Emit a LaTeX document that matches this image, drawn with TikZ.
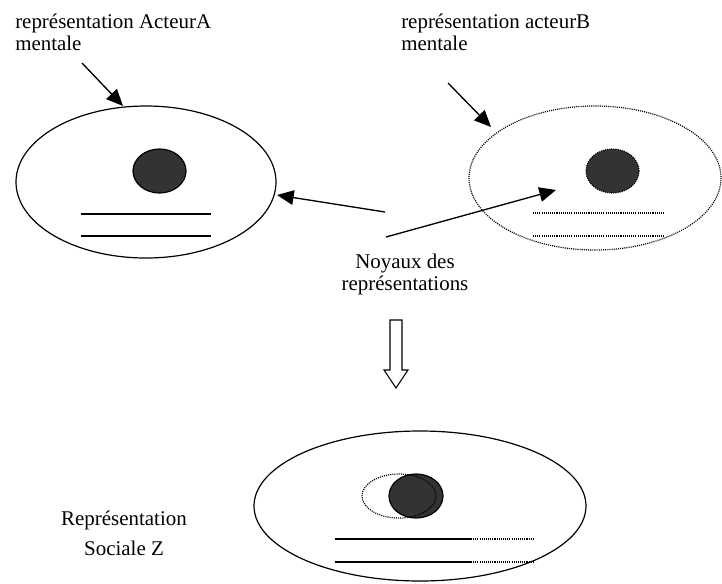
\documentclass[tikz,border=0pt]{standalone}
\usepackage{fontspec}
\setmainfont{Liberation Serif}
\usetikzlibrary{arrows.meta}
\begin{document}
\begin{tikzpicture}[x=0.75pt,y=-0.75pt,
  lbl/.style={inner sep=0pt,font=\fontsize{15.7pt}{16.5pt}\selectfont},
  ring/.style={draw=black,line width=0.9pt},
  dotring/.style={draw=black,line width=0.9pt,dash pattern=on 0.8pt off 0.8pt},
  core/.style={fill=coreGrey},
  pointer/.style={line width=1pt,-{Triangle[length=12.5pt,width=11pt]}},
  hollow/.style={draw=black,fill=white,line width=0.8pt,line join=miter}
]
\definecolor{coreGrey}{HTML}{333333}
\useasboundingbox (0,0) rectangle (722,583);

% --- labels (base anchor sits on the last line) ---
\node[lbl,anchor=base west,align=left] (labA) at (15,50) {représentation ActeurA\\mentale};
\node[lbl,anchor=base west,align=left] (labB) at (401,50) {représentation acteurB\\mentale};
\node[lbl,anchor=base,align=center] (noyaux) at (405,290) {Noyaux des\\représentations};
\node[lbl,anchor=base,align=center,font=\fontsize{15.7pt}{22.5pt}\selectfont] (socZ) at (124,555) {Représentation\\Sociale Z};

% --- representation of actor A ---
\draw[ring] (146,182) ellipse [x radius=130, y radius=76];
\draw[ring,core] (159.5,171) ellipse [x radius=26.5, y radius=22];
\draw[ring] (81,214) -- (211,214);
\draw[ring] (81,236) -- (211,236);

% --- representation of actor B (dotted) ---
\draw[dotring] (595,178) ellipse [x radius=126, y radius=72];
\draw[dotring,core] (612.5,171) ellipse [x radius=26.5, y radius=22];
\draw[dotring] (533,213) -- (664,213);
\draw[dotring] (533,236) -- (664,236);

% --- social representation Z ---
\draw[ring] (420,506) ellipse [x radius=166, y radius=75];
\draw[ring,core] (416,496) ellipse [x radius=27, y radius=22];
\draw[dotring] (399,496) ellipse [x radius=37, y radius=22];
\draw[ring] (335,539) -- (471,539);
\draw[dotring] (471,539) -- (534,539);
\draw[ring] (335,562) -- (471,562);
\draw[dotring] (471,562) -- (534,562);

% --- arrow anchors ---
\coordinate (aFrom) at (82,63);
\coordinate (aTip) at (123,106);
\coordinate (bFrom) at (448,83);
\coordinate (bTip) at (491,127);
\coordinate (nA) at (385,212);
\coordinate (nATip) at (277,195);
\coordinate (nB) at (386,237);
\coordinate (nBTip) at (556,190);

\draw[pointer] (aFrom) -- (aTip);
\draw[pointer] (bFrom) -- (bTip);
\draw[pointer] (nA) -- (nATip);
\draw[pointer] (nB) -- (nBTip);

% --- hollow down arrow ---
\draw[hollow] (390,320) -- (402,320) -- (402,370) -- (408,370) -- (396,388)
  -- (384,370) -- (390,370) -- cycle;
\end{tikzpicture}
\end{document}
